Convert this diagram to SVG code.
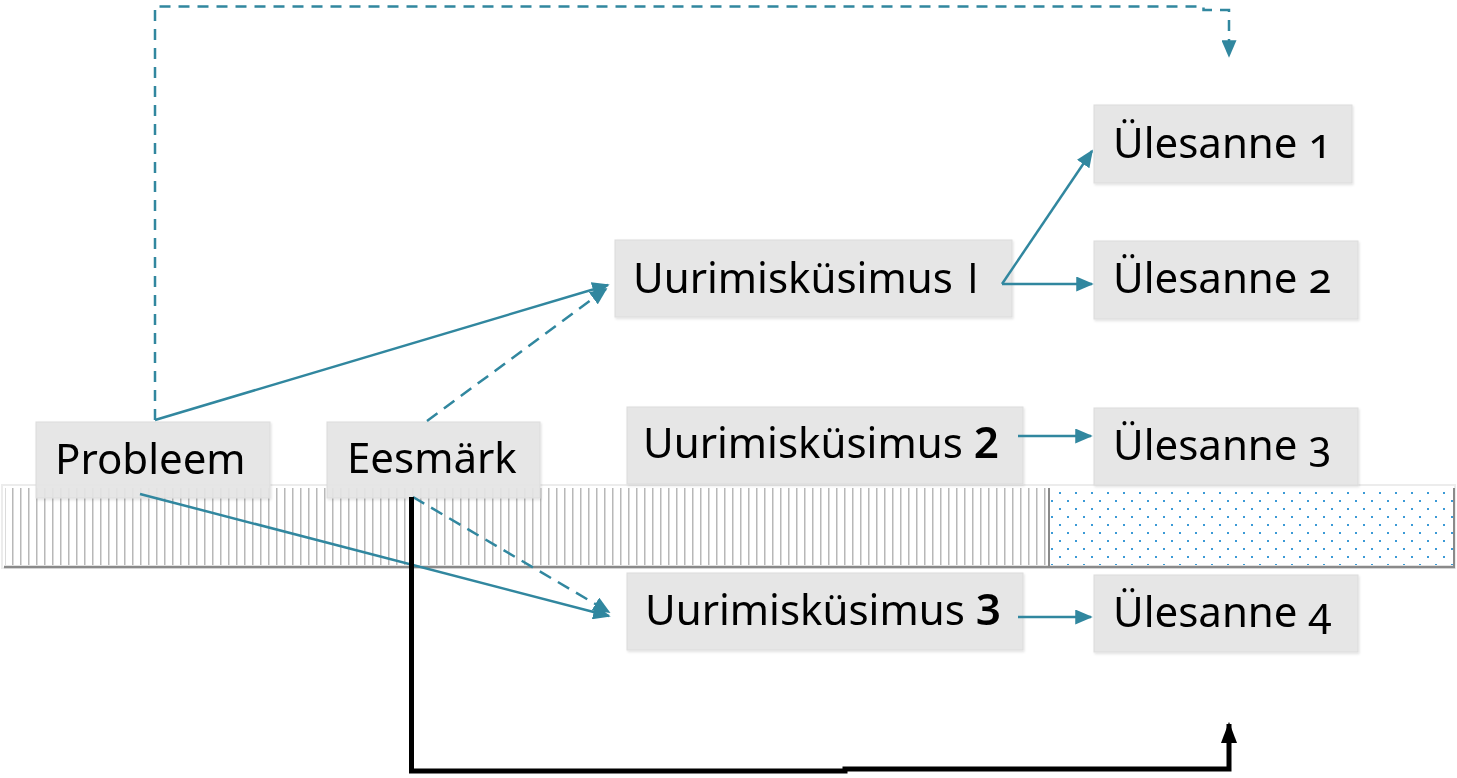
<svg xmlns="http://www.w3.org/2000/svg" width="1457" height="778" viewBox="0 0 1457 778">
<style>
.node rect{fill:#e5e5e5;fill-opacity:0.92;stroke:#dcdcdc;stroke-width:1}
.node text{font-family:"Noto Sans","Open Sans",sans-serif;font-size:42px;fill:#000;font-variant-numeric:oldstyle-nums}
.bn{font-weight:600;font-size:44px;font-variant-numeric:lining-nums}
.ii{font-family:"Open Sans",sans-serif;font-variant-numeric:normal}
.c{fill:none;stroke:#31879f;stroke-width:2.5}
.d{stroke-dasharray:13 8}
.blk{fill:none;stroke:#000;stroke-width:5;stroke-linejoin:miter}
</style>
<defs>
<pattern id="vl" patternUnits="userSpaceOnUse" x="12" y="0" width="8" height="10">
<rect x="0" y="0" width="1.5" height="10" fill="#b8b8b8"/>
</pattern>
<pattern id="dots" patternUnits="userSpaceOnUse" x="1059" y="492" width="16" height="16">
<rect x="0" y="0" width="2" height="2" fill="#3b9ad6"/>
<rect x="8" y="8" width="2" height="2" fill="#3b9ad6"/>
</pattern>
<marker id="ah" viewBox="0 0 10 10" refX="9" refY="5" markerWidth="7" markerHeight="6" markerUnits="strokeWidth" orient="auto" preserveAspectRatio="none">
<path d="M0,0 L10,5 L0,10 z" fill="#31879f"/>
</marker>
<marker id="ahb" viewBox="0 0 10 10" refX="9" refY="5" markerWidth="4.2" markerHeight="3.2" markerUnits="strokeWidth" orient="auto" preserveAspectRatio="none">
<path d="M0,0 L10,5 L0,10 z" fill="#000"/>
</marker>
<filter id="sh" x="-5%" y="-10%" width="110%" height="130%">
<feDropShadow dx="1" dy="1.5" stdDeviation="1" flood-color="#000" flood-opacity="0.12"/>
</filter>
</defs>
<rect width="1457" height="778" fill="#fff"/>
<g id="band">
<rect x="2" y="485" width="1453" height="83" fill="#fff" stroke="#ececec" stroke-width="2"/>
<rect x="5" y="488" width="1044" height="77" fill="url(#vl)"/>
<rect x="1050" y="488" width="403" height="77" fill="url(#dots)"/>
<line x1="1049" y1="488" x2="1049" y2="568" stroke="#8a8a8a" stroke-width="2"/>
<line x1="1454" y1="488" x2="1454" y2="568" stroke="#8a8a8a" stroke-width="2"/>
<line x1="4" y1="567" x2="1455" y2="567" stroke="#8a8a8a" stroke-width="2.5"/>
</g>
<g id="n-probleem" class="node" filter="url(#sh)"><rect x="36" y="422" width="234" height="76"/><text x="55" y="474">Probleem</text></g>
<g id="n-eesmark" class="node" filter="url(#sh)"><rect x="327" y="422" width="213" height="76"/><text x="347" y="473">Eesmärk</text></g>
<g id="n-u1" class="node" filter="url(#sh)"><rect x="615" y="240" width="397" height="77"/><text x="633" y="293">Uurimisküsimus <tspan class="ii" x="967">I</tspan></text></g>
<g id="n-u2" class="node" filter="url(#sh)"><rect x="627" y="407" width="396" height="77"/><text x="643" y="458">Uurimisküsimus <tspan class="bn">2</tspan></text></g>
<g id="n-u3" class="node" filter="url(#sh)"><rect x="627" y="573" width="396" height="77"/><text x="645" y="625">Uurimisküsimus <tspan class="bn">3</tspan></text></g>
<g id="n-y1" class="node" filter="url(#sh)"><rect x="1094" y="105" width="258" height="78"/><text x="1113" y="158">Ülesanne 1</text></g>
<g id="n-y2" class="node" filter="url(#sh)"><rect x="1094" y="241" width="264" height="78"/><text x="1113" y="293">Ülesanne 2</text></g>
<g id="n-y3" class="node" filter="url(#sh)"><rect x="1094" y="408" width="264" height="77"/><text x="1113" y="460">Ülesanne 3</text></g>
<g id="n-y4" class="node" filter="url(#sh)"><rect x="1094" y="575" width="264" height="77"/><text x="1113" y="627">Ülesanne 4</text></g>
<g id="connectors">
<path class="c d" d="M155,420 V6.5 H1203.5 V10 H1229 V56" marker-end="url(#ah)" style="stroke-dasharray:11 8"/>
<path class="c" d="M155,420 L608,285" marker-end="url(#ah)"/>
<path class="c d" d="M427,421 L606,289" marker-end="url(#ah)"/>
<path class="c" d="M140,494 L609,616" marker-end="url(#ah)"/>
<path class="c d" d="M413,497 L609,612" marker-end="url(#ah)"/>
<path class="c" d="M1002,284 L1092,151" marker-end="url(#ah)"/>
<path class="c" d="M1002,284 H1092" marker-end="url(#ah)"/>
<path class="c" d="M1018,436 H1091" marker-end="url(#ah)"/>
<path class="c" d="M1018,617 H1091" marker-end="url(#ah)"/>
<path class="blk" d="M411.5,497 V771 H845 V769 H1229 V724" marker-end="url(#ahb)"/>
</g>
</svg>
